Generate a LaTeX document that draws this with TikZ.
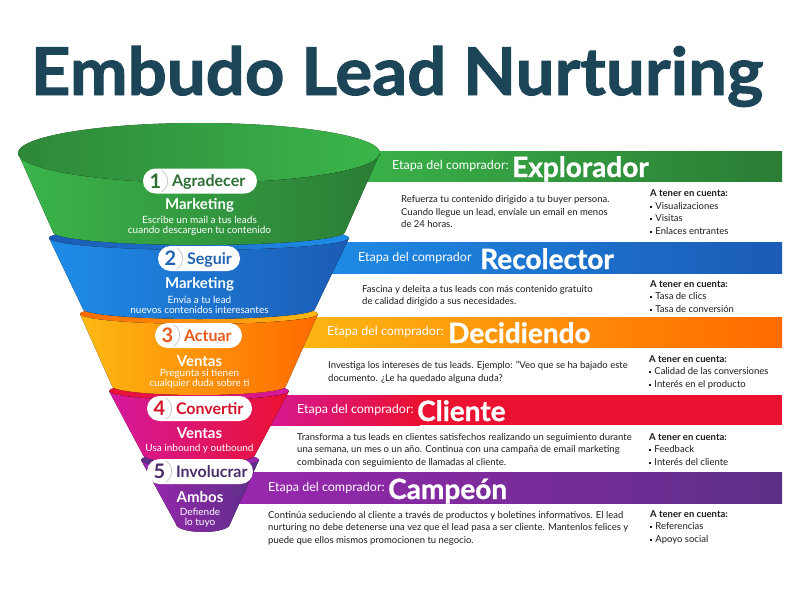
\documentclass[tikz,border=0pt]{standalone}
\usepackage{fontspec}
\usepackage{graphicx}
\setmainfont{Lato}
\usetikzlibrary{positioning}

\definecolor{titlecol}{HTML}{1C4658}
\definecolor{greenL}{HTML}{3BB54A}
\definecolor{greenD}{HTML}{2A7D35}
\definecolor{greenT}{HTML}{2E6E34}
\definecolor{blueL}{HTML}{1E8DE8}
\definecolor{blueD}{HTML}{1B5BB5}
\definecolor{blueT}{HTML}{2363B4}
\definecolor{orangeY}{HTML}{FDB913}
\definecolor{orangeD}{HTML}{FF6A00}
\definecolor{orangeT}{HTML}{E85A1B}
\definecolor{redM}{HTML}{D4199E}
\definecolor{redR}{HTML}{EA1131}
\definecolor{redT}{HTML}{D3132C}
\definecolor{purpleL}{HTML}{9B27AF}
\definecolor{purpleD}{HTML}{5C2F88}
\definecolor{purpleT}{HTML}{4B2D6B}
\definecolor{bodytext}{HTML}{1A1A1A}

\newcommand{\blt}{\rule[1.3pt]{2.2pt}{2.2pt}\hspace{3pt}}

\begin{document}
\begin{tikzpicture}[x=1pt, y=-1pt,
  maintitle/.style={anchor=base, text=titlecol, inner sep=0, font=\bfseries\fontsize{66}{66}\selectfont\addfontfeature{FakeBold=1.5}},
  etapa/.style={anchor=base west, text=white, inner sep=0, font=\fontsize{12.5}{12.5}\selectfont},
  stage/.style={anchor=base west, text=white, inner sep=0, font=\bfseries\fontsize{28}{28}\selectfont\addfontfeature{FakeBold=1}},
  body/.style={anchor=north west, inner sep=0, align=left, text=bodytext, font=\fontsize{9.5}{12.6}\selectfont},
  pill/.style={fill=white, rounded corners=12.5pt, minimum height=25pt, inner sep=0},
  pillnum/.style={circle, minimum size=25pt, inner sep=0, outer sep=0, text height=14.4pt, text depth=0pt, font=\bfseries\fontsize{20}{20}\selectfont},
  pilltxt/.style={inner sep=0, text height=11.5pt, text depth=0pt, font=\bfseries\fontsize{16}{16}\selectfont},
  numarc/.style={draw=black!20, line width=0.8pt},
  funnelhead/.style={anchor=base, text=white, inner sep=0, font=\bfseries\fontsize{15}{15}\selectfont},
  funnelsub/.style={anchor=north, text=white, inner sep=0, align=center, font=\fontsize{10}{10}\selectfont}]
  \useasboundingbox (0,0) rectangle (800,589);

  \node[maintitle] (title) at (397,95) {\scalebox{1.045}[1]{Embudo Lead Nurturing}};

  % banners
  \fill[left color=greenL, right color=greenD] (330,151) rectangle (782,181);
  \fill[left color=blueL, right color=blueD] (300,242) rectangle (782,273);
  \fill[left color=orangeY, right color=orangeD] (280,317) rectangle (782,347);
  \fill[redR] (250,395) rectangle (782,425);
  \fill[left color=redM, right color=redR] (250,395) rectangle (420,425);
  \fill[left color=purpleL, right color=purpleD] (220,472) rectangle (782,503);

  % funnel, lowest layer first
  \fill[left color=purpleD, right color=purpleL] (200,460) ellipse[x radius=59pt, y radius=8pt];
  \fill[left color=purpleL, right color=purpleD] (141,460) arc[start angle=180, end angle=360, x radius=59pt, y radius=8pt]
    -- (230,524) arc[start angle=0, end angle=-180, x radius=27pt, y radius=8pt] -- cycle;

  \fill[left color=redR, right color=redM] (199,391) ellipse[x radius=90pt, y radius=9pt];
  \fill[left color=redM, middle color=redR, right color=redR] (109,391) arc[start angle=180, end angle=360, x radius=90pt, y radius=9pt]
    -- (255,455) arc[start angle=0, end angle=-180, x radius=56pt, y radius=8pt] -- cycle;

  \fill[left color=orangeD, right color=orangeY] (199,314) ellipse[x radius=119pt, y radius=10pt];
  \fill[left color=orangeY, right color=orangeD] (80,314) arc[start angle=180, end angle=360, x radius=119pt, y radius=10pt]
    -- (286,386) arc[start angle=0, end angle=-180, x radius=87pt, y radius=9pt] -- cycle;

  \fill[left color=blueD, right color=blueL] (199,238) ellipse[x radius=150pt, y radius=12pt];
  \fill[left color=blueL, right color=blueD] (49,238) arc[start angle=180, end angle=360, x radius=150pt, y radius=12pt]
    -- (315,309) arc[start angle=0, end angle=-180, x radius=116pt, y radius=10pt] -- cycle;

  \fill[left color=greenD!80!greenL, right color=greenL] (199,153) ellipse[x radius=181pt, y radius=30pt];
  \fill[left color=greenL, right color=greenD] (18,153) arc[start angle=180, end angle=360, x radius=181pt, y radius=30pt]
    -- (345,232) arc[start angle=0, end angle=-180, x radius=146pt, y radius=13pt] -- cycle;

  % pills
  \node[pill, minimum width=114pt] (pill1) at (200,181) {};
  \node[pillnum, text=greenT] (num1) at ([xshift=12.5pt]pill1.west) {1};
  \draw[numarc] (num1.60) arc[start angle=60, end angle=-60, radius=12.5pt];
  \node[pilltxt, text=greenT, right=4pt of num1] (lab1) {Agradecer};

  \node[pill, minimum width=82pt] (pill2) at (199,258.5) {};
  \node[pillnum, text=blueT] (num2) at ([xshift=12.5pt]pill2.west) {2};
  \draw[numarc] (num2.60) arc[start angle=60, end angle=-60, radius=12.5pt];
  \node[pilltxt, text=blueT, right=4pt of num2] (lab2) {Seguir};

  \node[pill, minimum width=87pt] (pill3) at (198.5,335.5) {};
  \node[pillnum, text=orangeT] (num3) at ([xshift=12.5pt]pill3.west) {3};
  \draw[numarc] (num3.60) arc[start angle=60, end angle=-60, radius=12.5pt];
  \node[pilltxt, text=orangeT, right=4pt of num3] (lab3) {Actuar};

  \node[pill, minimum width=105pt] (pill4) at (199.5,408.5) {};
  \node[pillnum, text=redT] (num4) at ([xshift=12.5pt]pill4.west) {4};
  \draw[numarc] (num4.60) arc[start angle=60, end angle=-60, radius=12.5pt];
  \node[pilltxt, text=redT, right=4pt of num4] (lab4) {Convertir};

  \node[pill, minimum width=106pt] (pill5) at (200,471.5) {};
  \node[pillnum, text=purpleT] (num5) at ([xshift=12.5pt]pill5.west) {5};
  \draw[numarc] (num5.60) arc[start angle=60, end angle=-60, radius=12.5pt];
  \node[pilltxt, text=purpleT, right=4pt of num5] (lab5) {Involucrar};

  % funnel texts
  \node[funnelhead] (head1) at (199.5,209.5) {Marketing};
  \node[funnelsub] (sub1) at (199.5,216) {Escribe un mail a tus leads\\cuando descarguen tu contenido};
  \node[funnelhead] (head2) at (199.5,288.5) {Marketing};
  \node[funnelsub] (sub2) at (199.5,296) {Envía a tu lead\\nuevos contenidos interesantes};
  \node[funnelhead] (head3) at (199.5,366) {Ventas};
  \node[funnelsub] (sub3) at (199.5,369) {Pregunta si tienen\\cualquier duda sobre ti};
  \node[funnelhead] (head4) at (199.5,438) {Ventas};
  \node[funnelsub] (sub4) at (199.5,444) {Usa inbound y outbound};
  \node[funnelhead] (head5) at (200,502) {Ambos};
  \node[funnelsub] (sub5) at (200,508) {Defiende\\lo tuyo};

  % banner texts
  \node[etapa] (etapa1) at (392,169) {Etapa del comprador:};
  \node[stage] (stage1) at (512,177) {Explorador};
  \node[etapa] (etapa2) at (358,261) {Etapa del comprador};
  \node[stage] (stage2) at (480,269) {Recolector};
  \node[etapa] (etapa3) at (327,335) {Etapa del comprador:};
  \node[stage] (stage3) at (448,343) {Decidiendo};
  \node[etapa] (etapa4) at (297,413) {Etapa del comprador:};
  \node[stage] (stage4) at (417,421) {Cliente};
  \node[etapa] (etapa5) at (268,491) {Etapa del comprador:};
  \node[stage] (stage5) at (388,499) {Campeón};

  % descriptions
  \node[body] (desc1) at (401,195.5) {Refuerza tu contenido dirigido a tu buyer persona.\\Cuando llegue un lead, envíale un email en menos\\de 24 horas.};
  \node[body] (note1) at (650,189.5) {\textbf{A tener en cuenta:}\\\blt Visualizaciones\\\blt Visitas\\\blt Enlaces entrantes};
  \node[body] (desc2) at (362,285) {Fascina y deleita a tus leads con más contenido gratuito\\de calidad dirigido a sus necesidades.};
  \node[body] (note2) at (650,280) {\textbf{A tener en cuenta:}\\\blt Tasa de clics\\\blt Tasa de conversión};
  \node[body] (desc3) at (328,361) {Investiga los intereses de tus leads. Ejemplo: "Veo que se ha bajado este\\documento. ¿Le ha quedado alguna duda?};
  \node[body] (note3) at (649,355) {\textbf{A tener en cuenta:}\\\blt Calidad de las conversiones\\\blt Interés en el producto};
  \node[body] (desc4) at (297,433) {Transforma a tus leads en clientes satisfechos realizando un seguimiento durante\\una semana, un mes o un año. Continua con una campaña de email marketing\\combinada con seguimiento de llamadas al cliente.};
  \node[body] (note4) at (649,433) {\textbf{A tener en cuenta:}\\\blt Feedback\\\blt Interés del cliente};
  \node[body] (desc5) at (268,511) {Continúa seduciendo al cliente a través de productos y boletines informativos. El lead\\nurturing no debe detenerse una vez que el lead pasa a ser cliente. Mantenlos felices y\\puede que ellos mismos promocionen tu negocio.};
  \node[body] (note5) at (650,510) {\textbf{A tener en cuenta:}\\\blt Referencias\\\blt Apoyo social};
\end{tikzpicture}
\end{document}
